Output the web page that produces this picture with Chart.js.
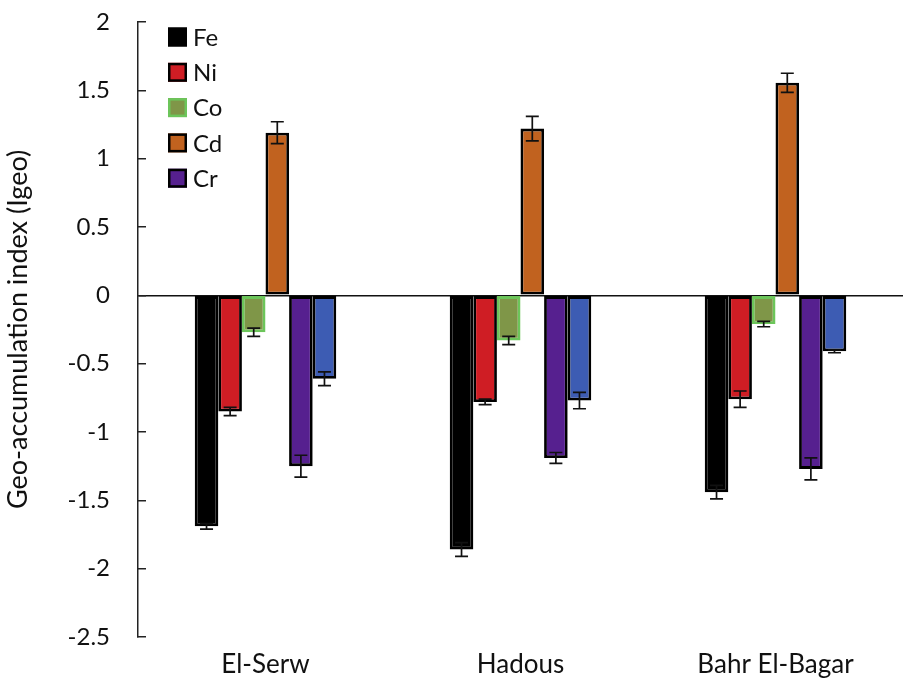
<!DOCTYPE html>
<html>
<head>
<meta charset="utf-8">
<script src="https://cdn.jsdelivr.net/npm/chart.js@4.4.1/dist/chart.umd.min.js"></script>
<style>
  html, body { margin: 0; padding: 0; background: #fff; }
  #wrap { width: 905px; height: 680px; }
</style>
</head>
<body>
<div id="wrap"><canvas id="myChart"></canvas></div>
<script>
const sites = ['El-Serw', 'Hadous', 'Bahr El-Bagar'];
const yTicks = [-2.5, -2, -1.5, -1, -0.5, 0, 0.5, 1, 1.5, 2];

// Igeo values per metal (one value per site)
const fe = [-1.69, -1.86, -1.44];
const ni = [-0.85, -0.78, -0.76];
const co = [-0.27, -0.33, -0.21];
const cd = [1.19, 1.22, 1.555];
const cr = [-1.25, -1.19, -1.27];
const other = [-0.61, -0.77, -0.41];

// error bar half-widths
const feErr = [0.02, 0.05, 0.05];
const niErr = [0.03, 0.02, 0.06];
const coErr = [0.03, 0.03, 0.02];
const cdErr = [0.08, 0.09, 0.07];
const crErr = [0.08, 0.04, 0.08];
const otherErr = [0.05, 0.06, 0.01];

const FONT = 'Lato, "Open Sans", sans-serif';

function series(label, data, errors, fill, border) {
    return {
        label: label,
        data: data,
        errors: errors,
        backgroundColor: fill,
        borderColor: border,
        borderWidth: 2.8,
        borderSkipped: false
    };
}

const errorBars = {
    id: 'errorBars',
    afterDatasetsDraw(chart) {
        const ctx = chart.ctx;
        const y = chart.scales.y;
        ctx.save();
        ctx.strokeStyle = '#111';
        ctx.lineWidth = 1.7;
        chart.data.datasets.forEach((ds, i) => {
            const meta = chart.getDatasetMeta(i);
            meta.data.forEach((bar, j) => {
                const v = ds.data[j], e = ds.errors[j];
                const top = y.getPixelForValue(v + e);
                const bot = y.getPixelForValue(v - e);
                const x = bar.x, w = 6.5;
                ctx.beginPath();
                ctx.moveTo(x, top); ctx.lineTo(x, bot);
                ctx.moveTo(x - w, top); ctx.lineTo(x + w, top);
                ctx.moveTo(x - w, bot); ctx.lineTo(x + w, bot);
                ctx.stroke();
            });
        });
        ctx.restore();
    }
};

// legend drawn inside the plot, top-left, skipping the unlabelled series
const insideLegend = {
    id: 'insideLegend',
    afterDraw(chart) {
        const ctx = chart.ctx;
        const area = chart.chartArea;
        const x0 = area.left + 30, y0 = area.top + 15, step = 35.3, box = 19;
        ctx.save();
        ctx.font = '24px ' + FONT;
        ctx.textBaseline = 'middle';
        let row = 0;
        chart.data.datasets.forEach((ds) => {
            if (!ds.label) return;
            const cy = y0 + row * step;
            ctx.fillStyle = ds.backgroundColor;
            ctx.fillRect(x0, cy - box / 2, box, box);
            ctx.strokeStyle = ds.borderColor;
            ctx.lineWidth = 2.5;
            ctx.strokeRect(x0 + 1.25, cy - box / 2 + 1.25, box - 2.5, box - 2.5);
            ctx.fillStyle = '#111';
            ctx.fillText(ds.label, x0 + box + 6, cy + 1);
            row++;
        });
        ctx.restore();
    }
};

const ctx = document.getElementById('myChart');
const myChart = new Chart(ctx, {
    type: 'bar',
    data: {
        labels: sites,
        datasets: [
            series('Fe', fe, feErr, '#000000', '#000000'),
            series('Ni', ni, niErr, '#cf1d24', '#000000'),
            series('Co', co, coErr, '#7f9648', '#6cc55a'),
            series('Cd', cd, cdErr, '#c1621f', '#000000'),
            series('Cr', cr, crErr, '#56208f', '#000000'),
            series('', other, otherErr, '#3d5cb3', '#000000')
        ]
    },
    plugins: [errorBars, insideLegend],
    options: {
        responsive: true,
        maintainAspectRatio: false,
        animation: false,
        layout: { padding: { top: 0, right: 2, bottom: 0, left: 0 } },
        datasets: {
            bar: { categoryPercentage: 0.555, barPercentage: 1.0 }
        },
        plugins: {
            tooltip: { enabled: false },
            legend: { display: false }
        },
        scales: {
            x: {
                grid: { display: false },
                border: { display: false },
                afterFit: (axis) => { axis.height = 43; },
                ticks: {
                    color: '#111',
                    font: { family: FONT, size: 26, lineHeight: 1 },
                    padding: 7
                }
            },
            y: {
                min: -2.5,
                max: 2,
                afterBuildTicks: (axis) => {
                    axis.ticks = yTicks.map(v => ({ value: v }));
                },
                afterFit: (axis) => {
                    axis.width = 138;
                    axis.paddingTop = 22;
                    axis.paddingBottom = 14;
                },
                border: { display: true, color: '#222', width: 1.5 },
                grid: {
                    drawOnChartArea: true,
                    color: (c) => c.tick && c.tick.value === 0 ? '#111' : 'rgba(0,0,0,0)',
                    lineWidth: 1.5,
                    tickColor: '#222',
                    tickLength: -8
                },
                ticks: {
                    color: '#111',
                    font: { family: FONT, size: 24 },
                    padding: 36,
                    callback: (v) => String(v)
                },
                title: {
                    display: true,
                    text: 'Geo-accumulation index (Igeo)',
                    color: '#111',
                    font: { family: FONT, size: 27 },
                    padding: { top: 2, bottom: 0 }
                }
            }
        }
    }
});
</script>
</body>
</html>
